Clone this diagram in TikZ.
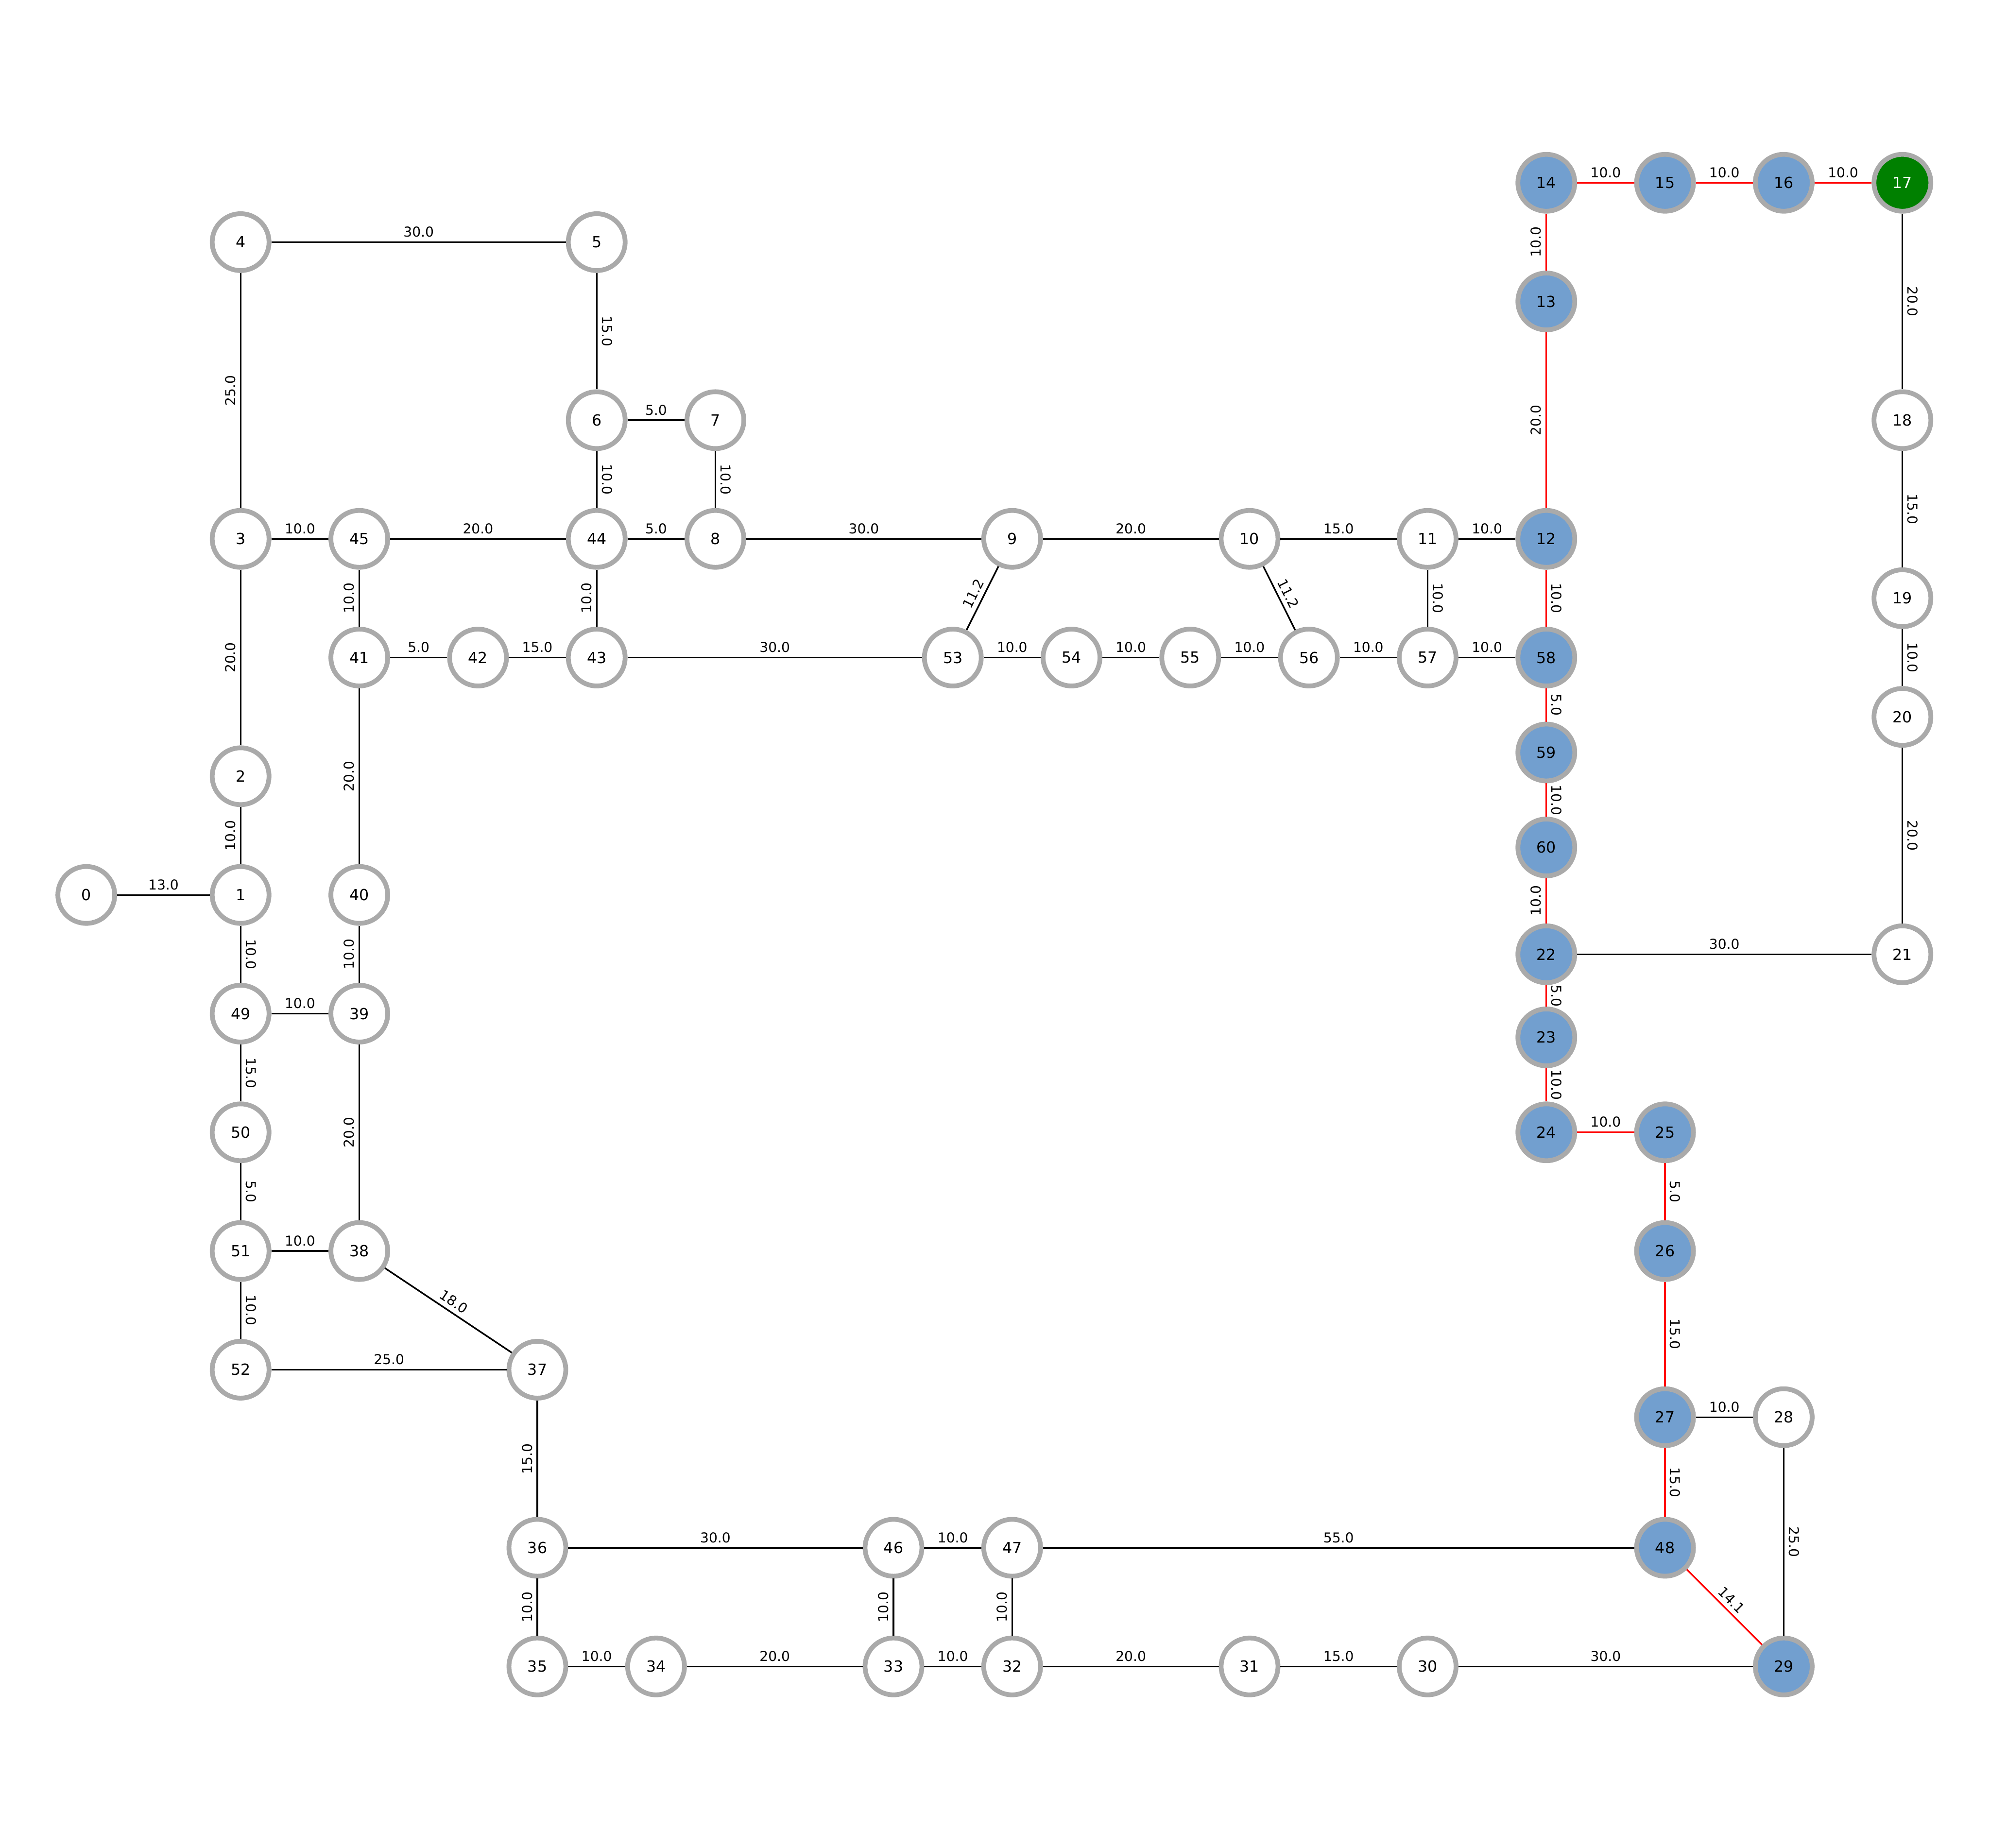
\documentclass[tikz,border=0pt]{standalone}
\usepackage{fontspec}
\setmainfont{DejaVu Sans}
\definecolor{nodeblue}{RGB}{114,159,207}
\definecolor{ringgray}{RGB}{170,170,170}
\definecolor{goalgreen}{RGB}{0,128,0}
\tikzset{
  vtx/.style={circle, draw=ringgray, line width=2.8pt, fill=white, minimum size=1.17cm, inner sep=0pt, font=\fontsize{9}{10}\selectfont},
  pathvtx/.style={vtx, fill=nodeblue},
  goalvtx/.style={vtx, fill=goalgreen, text=white},
  lnk/.style={line width=0.95pt, black},
  pathlnk/.style={line width=0.95pt, red},
  wh/.style={midway, anchor=south, inner sep=2.5pt, text=black, font=\fontsize{8}{9}\selectfont},
  wl/.style={wh, rotate=90},
  wr/.style={wh, rotate=-90},
  ws/.style={wh, sloped},
}
\begin{document}
\begin{tikzpicture}[x=0.24432cm, y=-0.24432cm]
      \useasboundingbox (-7.27,-15.40) rectangle (160.38,140.26);

      % plain vertices
      \node[vtx] (n0) at (0,60) {0};
      \node[vtx] (n1) at (13,60) {1};
      \node[vtx] (n2) at (13,50) {2};
      \node[vtx] (n3) at (13,30) {3};
      \node[vtx] (n4) at (13,5) {4};
      \node[vtx] (n5) at (43,5) {5};
      \node[vtx] (n6) at (43,20) {6};
      \node[vtx] (n7) at (53,20) {7};
      \node[vtx] (n8) at (53,30) {8};
      \node[vtx] (n9) at (78,30) {9};
      \node[vtx] (n10) at (98,30) {10};
      \node[vtx] (n11) at (113,30) {11};
      \node[vtx] (n18) at (153,20) {18};
      \node[vtx] (n19) at (153,35) {19};
      \node[vtx] (n20) at (153,45) {20};
      \node[vtx] (n21) at (153,65) {21};
      \node[vtx] (n28) at (143,104) {28};
      \node[vtx] (n30) at (113,125) {30};
      \node[vtx] (n31) at (98,125) {31};
      \node[vtx] (n32) at (78,125) {32};
      \node[vtx] (n33) at (68,125) {33};
      \node[vtx] (n34) at (48,125) {34};
      \node[vtx] (n35) at (38,125) {35};
      \node[vtx] (n36) at (38,115) {36};
      \node[vtx] (n37) at (38,100) {37};
      \node[vtx] (n38) at (23,90) {38};
      \node[vtx] (n39) at (23,70) {39};
      \node[vtx] (n40) at (23,60) {40};
      \node[vtx] (n41) at (23,40) {41};
      \node[vtx] (n42) at (33,40) {42};
      \node[vtx] (n43) at (43,40) {43};
      \node[vtx] (n44) at (43,30) {44};
      \node[vtx] (n45) at (23,30) {45};
      \node[vtx] (n46) at (68,115) {46};
      \node[vtx] (n47) at (78,115) {47};
      \node[vtx] (n49) at (13,70) {49};
      \node[vtx] (n50) at (13,80) {50};
      \node[vtx] (n51) at (13,90) {51};
      \node[vtx] (n52) at (13,100) {52};
      \node[vtx] (n53) at (73,40) {53};
      \node[vtx] (n54) at (83,40) {54};
      \node[vtx] (n55) at (93,40) {55};
      \node[vtx] (n56) at (103,40) {56};
      \node[vtx] (n57) at (113,40) {57};

      % vertices on the path
      \node[pathvtx] (n12) at (123,30) {12};
      \node[pathvtx] (n13) at (123,10) {13};
      \node[pathvtx] (n14) at (123,0) {14};
      \node[pathvtx] (n15) at (133,0) {15};
      \node[pathvtx] (n16) at (143,0) {16};
      \node[goalvtx] (n17) at (153,0) {17};
      \node[pathvtx] (n22) at (123,65) {22};
      \node[pathvtx] (n23) at (123,72) {23};
      \node[pathvtx] (n24) at (123,80) {24};
      \node[pathvtx] (n25) at (133,80) {25};
      \node[pathvtx] (n26) at (133,90) {26};
      \node[pathvtx] (n27) at (133,104) {27};
      \node[pathvtx] (n29) at (143,125) {29};
      \node[pathvtx] (n48) at (133,115) {48};
      \node[pathvtx] (n58) at (123,40) {58};
      \node[pathvtx] (n59) at (123,48) {59};
      \node[pathvtx] (n60) at (123,56) {60};

      % path edges
      \draw[pathlnk] (n14) -- (n15) node[wh]{10.0};
      \draw[pathlnk] (n15) -- (n16) node[wh]{10.0};
      \draw[pathlnk] (n16) -- (n17) node[wh]{10.0};
      \draw[pathlnk] (n14) -- (n13) node[wl]{10.0};
      \draw[pathlnk] (n13) -- (n12) node[wl]{20.0};
      \draw[pathlnk] (n12) -- (n58) node[wr]{10.0};
      \draw[pathlnk] (n58) -- (n59) node[wr]{5.0};
      \draw[pathlnk] (n59) -- (n60) node[wr]{10.0};
      \draw[pathlnk] (n60) -- (n22) node[wl]{10.0};
      \draw[pathlnk] (n22) -- (n23) node[wr]{5.0};
      \draw[pathlnk] (n23) -- (n24) node[wr]{10.0};
      \draw[pathlnk] (n24) -- (n25) node[wh]{10.0};
      \draw[pathlnk] (n25) -- (n26) node[wr]{5.0};
      \draw[pathlnk] (n26) -- (n27) node[wr]{15.0};
      \draw[pathlnk] (n27) -- (n48) node[wr]{15.0};
      \draw[pathlnk] (n48) -- (n29) node[ws]{14.1};

      % other edges
      \draw[lnk] (n0) -- (n1) node[wh]{13.0};
      \draw[lnk] (n2) -- (n1) node[wl]{10.0};
      \draw[lnk] (n3) -- (n2) node[wl]{20.0};
      \draw[lnk] (n4) -- (n3) node[wl]{25.0};
      \draw[lnk] (n4) -- (n5) node[wh]{30.0};
      \draw[lnk] (n5) -- (n6) node[wr]{15.0};
      \draw[lnk] (n6) -- (n7) node[wh]{5.0};
      \draw[lnk] (n6) -- (n44) node[wr]{10.0};
      \draw[lnk] (n7) -- (n8) node[wr]{10.0};
      \draw[lnk] (n3) -- (n45) node[wh]{10.0};
      \draw[lnk] (n45) -- (n44) node[wh]{20.0};
      \draw[lnk] (n44) -- (n8) node[wh]{5.0};
      \draw[lnk] (n8) -- (n9) node[wh]{30.0};
      \draw[lnk] (n9) -- (n10) node[wh]{20.0};
      \draw[lnk] (n10) -- (n11) node[wh]{15.0};
      \draw[lnk] (n11) -- (n12) node[wh]{10.0};
      \draw[lnk] (n41) -- (n45) node[wl]{10.0};
      \draw[lnk] (n43) -- (n44) node[wl]{10.0};
      \draw[lnk] (n11) -- (n57) node[wr]{10.0};
      \draw[lnk] (n53) -- (n9) node[ws]{11.2};
      \draw[lnk] (n10) -- (n56) node[ws]{11.2};
      \draw[lnk] (n41) -- (n42) node[wh]{5.0};
      \draw[lnk] (n42) -- (n43) node[wh]{15.0};
      \draw[lnk] (n43) -- (n53) node[wh]{30.0};
      \draw[lnk] (n53) -- (n54) node[wh]{10.0};
      \draw[lnk] (n54) -- (n55) node[wh]{10.0};
      \draw[lnk] (n55) -- (n56) node[wh]{10.0};
      \draw[lnk] (n56) -- (n57) node[wh]{10.0};
      \draw[lnk] (n57) -- (n58) node[wh]{10.0};
      \draw[lnk] (n17) -- (n18) node[wr]{20.0};
      \draw[lnk] (n18) -- (n19) node[wr]{15.0};
      \draw[lnk] (n19) -- (n20) node[wr]{10.0};
      \draw[lnk] (n20) -- (n21) node[wr]{20.0};
      \draw[lnk] (n22) -- (n21) node[wh]{30.0};
      \draw[lnk] (n40) -- (n41) node[wl]{20.0};
      \draw[lnk] (n39) -- (n40) node[wl]{10.0};
      \draw[lnk] (n38) -- (n39) node[wl]{20.0};
      \draw[lnk] (n1) -- (n49) node[wr]{10.0};
      \draw[lnk] (n49) -- (n39) node[wh]{10.0};
      \draw[lnk] (n49) -- (n50) node[wr]{15.0};
      \draw[lnk] (n50) -- (n51) node[wr]{5.0};
      \draw[lnk] (n51) -- (n38) node[wh]{10.0};
      \draw[lnk] (n51) -- (n52) node[wr]{10.0};
      \draw[lnk] (n38) -- (n37) node[ws]{18.0};
      \draw[lnk] (n52) -- (n37) node[wh]{25.0};
      \draw[lnk] (n36) -- (n37) node[wl]{15.0};
      \draw[lnk] (n35) -- (n36) node[wl]{10.0};
      \draw[lnk] (n36) -- (n46) node[wh]{30.0};
      \draw[lnk] (n46) -- (n47) node[wh]{10.0};
      \draw[lnk] (n47) -- (n48) node[wh]{55.0};
      \draw[lnk] (n33) -- (n46) node[wl]{10.0};
      \draw[lnk] (n32) -- (n47) node[wl]{10.0};
      \draw[lnk] (n27) -- (n28) node[wh]{10.0};
      \draw[lnk] (n28) -- (n29) node[wr]{25.0};
      \draw[lnk] (n35) -- (n34) node[wh]{10.0};
      \draw[lnk] (n34) -- (n33) node[wh]{20.0};
      \draw[lnk] (n33) -- (n32) node[wh]{10.0};
      \draw[lnk] (n32) -- (n31) node[wh]{20.0};
      \draw[lnk] (n31) -- (n30) node[wh]{15.0};
      \draw[lnk] (n30) -- (n29) node[wh]{30.0};
\end{tikzpicture}
\end{document}
